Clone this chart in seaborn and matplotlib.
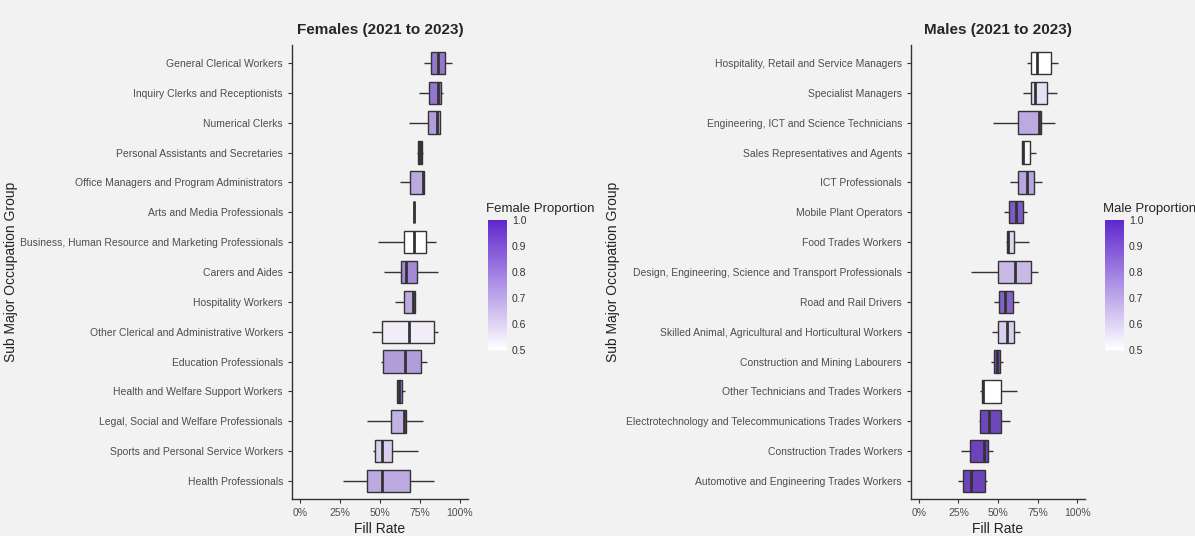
import seaborn as sns
import pandas as pd
import numpy as np
import matplotlib.pyplot as plt
from matplotlib.colors import LinearSegmentedColormap, Normalize
from matplotlib.cm import ScalarMappable

sns.set_theme(style="ticks")
plt.rcParams['font.family'] = ['Liberation Sans', 'DejaVu Sans']

# female panel, top to bottom; fill rate in %
female_groups = ['General Clerical Workers', 'Inquiry Clerks and Receptionists', 'Numerical Clerks',
                 'Personal Assistants and Secretaries', 'Office Managers and Program Administrators',
                 'Arts and Media Professionals', 'Business, Human Resource and Marketing Professionals',
                 'Carers and Aides', 'Hospitality Workers', 'Other Clerical and Administrative Workers',
                 'Education Professionals', 'Health and Welfare Support Workers',
                 'Legal, Social and Welfare Professionals', 'Sports and Personal Service Workers',
                 'Health Professionals']
female_low = [77.7, 74.6, 68.3, 72.9, 62.5, 71.3, 48.5, 52.7, 59.6, 45.2, 50.4, 60.8, 41.7, 45.4, 27.1]
female_q1 = [81.7, 80.4, 79.8, 74.0, 69.0, 71.3, 65.0, 63.3, 65.2, 51.3, 51.7, 60.8, 56.9, 47.1, 42.1]
female_med = [86.0, 86.3, 85.4, 75.2, 76.7, 71.3, 71.0, 66.3, 70.8, 68.3, 65.6, 62.0, 65.2, 51.5, 51.0]
female_q3 = [90.6, 88.3, 87.5, 76.4, 77.5, 71.3, 78.8, 73.3, 71.9, 83.8, 75.4, 63.5, 66.3, 57.5, 68.8]
female_high = [94.8, 89.6, 87.5, 77.0, 77.5, 71.3, 85.0, 86.0, 71.9, 86.5, 79.6, 65.4, 77.1, 73.8, 83.8]
female_prop = [0.85, 0.85, 0.75, 0.95, 0.72, 0.6, 0.5, 0.8, 0.72, 0.55, 0.75, 0.85, 0.7, 0.62, 0.72]

# male panel, top to bottom
male_groups = ['Hospitality, Retail and Service Managers', 'Specialist Managers',
               'Engineering, ICT and Science Technicians', 'Sales Representatives and Agents',
               'ICT Professionals', 'Mobile Plant Operators', 'Food Trades Workers',
               'Design, Engineering, Science and Transport Professionals', 'Road and Rail Drivers',
               'Skilled Animal, Agricultural and Horticultural Workers', 'Construction and Mining Labourers',
               'Other Technicians and Trades Workers', 'Electrotechnology and Telecommunications Trades Workers',
               'Construction Trades Workers', 'Automotive and Engineering Trades Workers']
male_low = [68.6, 65.9, 46.7, 65.0, 57.7, 53.9, 55.0, 33.0, 47.5, 45.9, 45.5, 38.7, 38.3, 26.9, 24.4]
male_q1 = [71.1, 70.9, 62.7, 65.0, 62.6, 57.1, 55.4, 50.1, 50.8, 50.1, 47.4, 39.6, 38.9, 32.1, 27.6]
male_med = [74.8, 73.6, 75.8, 66.0, 68.5, 61.5, 56.4, 60.6, 54.2, 55.6, 49.3, 40.4, 44.0, 41.2, 33.2]
male_q3 = [83.4, 80.7, 77.0, 70.2, 72.9, 65.5, 60.2, 71.1, 59.2, 60.2, 51.0, 51.6, 52.2, 43.7, 41.6]
male_high = [87.8, 87.0, 85.9, 74.3, 77.5, 68.6, 69.5, 75.5, 63.4, 63.7, 52.9, 61.9, 57.7, 46.6, 42.9]
male_prop = [0.5, 0.58, 0.72, 0.52, 0.73, 0.92, 0.6, 0.68, 0.9, 0.62, 0.95, 0.5, 0.97, 0.98, 0.98]

bg = '#f2f2f2'
cmap = LinearSegmentedColormap.from_list('prop', ['#ffffff', '#5f27cd'])
norm = Normalize(0.5, 1.0)


def five_point_frame(groups, lo, q1, med, q3, hi):
    # five sorted points per group: quartiles land exactly on q1 / median / q3
    rows = []
    for i, g in enumerate(groups):
        for v in (lo[i], q1[i], med[i], q3[i], hi[i]):
            rows.append({'group': g, 'fill': v / 100})
    return pd.DataFrame(rows)


def panel(ax, cax, groups, lo, q1, med, q3, hi, prop, title, legend_title, ylab_x):
    df = five_point_frame(groups, lo, q1, med, q3, hi)
    pal = {g: cmap(norm(p)) for g, p in zip(groups, prop)}
    sns.boxplot(data=df, x='fill', y='group', hue='group', order=groups, palette=pal,
                whis=(0, 100), width=0.75, linecolor='#333333', linewidth=1,
                showcaps=False, medianprops={'linewidth': 2}, legend=False, ax=ax)
    ax.set_facecolor(bg)
    ax.set_xlim(-0.05, 1.05)
    ax.set_ylim(len(groups) - 0.4, -0.6)
    ax.set_xticks([0, 0.25, 0.5, 0.75, 1.0])
    ax.set_xticklabels(['0%', '25%', '50%', '75%', '100%'])
    ax.tick_params(axis='both', labelsize=7.5, labelcolor='#4d4d4d', color='#333333', length=3, width=0.8)
    for s in ['top', 'right']:
        ax.spines[s].set_visible(False)
    for s in ['left', 'bottom']:
        ax.spines[s].set_color('#333333')
        ax.spines[s].set_linewidth(1)
    ax.set_xlabel('Fill Rate', fontsize=10, color='#222222')
    ax.xaxis.set_label_coords(0.5, -0.05)
    ax.set_ylabel('Sub Major Occupation Group', fontsize=10, color='#222222')
    ax.yaxis.set_label_coords(ylab_x, 0.5)
    ax.set_title(title, fontsize=11, fontweight='bold', pad=8)

    sm = ScalarMappable(norm=norm, cmap=cmap)
    cb = plt.colorbar(sm, cax=cax, ticks=[0.5, 0.6, 0.7, 0.8, 0.9, 1.0])
    cb.outline.set_visible(False)
    cax.tick_params(labelsize=7.5, labelcolor='#333333', direction='in', color='white',
                    length=3, width=0.6, left=True, right=True)
    cax.set_yticklabels(['0.5', '0.6', '0.7', '0.8', '0.9', '1.0'])
    cax.set_title(legend_title, fontsize=9.5, loc='left', pad=6, x=-0.1)


fig = plt.figure(figsize=(11.95, 5.36), dpi=100, facecolor=bg)
ax1 = fig.add_axes([292 / 1195, 37 / 536, 176 / 1195, 454 / 536])
ax2 = fig.add_axes([911 / 1195, 37 / 536, 174 / 1195, 454 / 536])
cax1 = fig.add_axes([488 / 1195, 186 / 536, 19 / 1195, 130 / 536])
cax2 = fig.add_axes([1105 / 1195, 186 / 536, 19 / 1195, 130 / 536])

panel(ax1, cax1, female_groups, female_low, female_q1, female_med, female_q3, female_high, female_prop,
      'Females (2021 to 2023)', 'Female Proportion', -1.557)
panel(ax2, cax2, male_groups, male_low, male_q1, male_med, male_q3, male_high, male_prop,
      'Males (2021 to 2023)', 'Male Proportion', -1.672)

fig.savefig('out.png', dpi=100, facecolor=bg)
